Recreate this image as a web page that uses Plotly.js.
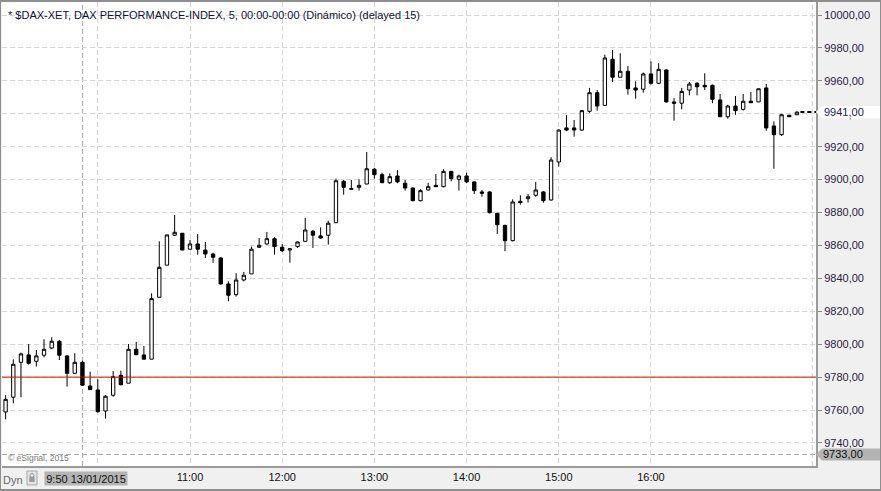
<!DOCTYPE html>
<html><head><meta charset="utf-8">
<script src="https://cdn.plot.ly/plotly-3.0.1.min.js"></script>
<style>
html,body{margin:0;padding:0;background:#f0f0f0;overflow:hidden;}
#chart{position:absolute;left:0;top:0;width:881px;height:491px;}
#frame{position:absolute;left:0;top:0;width:881px;height:491px;box-sizing:border-box;border-style:solid;border-color:#8e8e8e;border-width:2px 1px 2px 1px;pointer-events:none;}
</style>
</head><body><div id="chart"></div><div id="frame"></div>
<script>
// ---- data (5-minute bars, 13/01/2015, first bar 09:00) ----
const sessionDate = '2015-01-13';
const firstBarMinute = 9 * 60;
const barMinutes = 5;
const opens = [9758.8,9767.8,9789.0,9793.5,9789.6,9793.3,9797.7,9801.8,9792.9,9782.3,
9789.0,9774.6,9772.2,9759.4,9769.0,9781.1,9776.3,9796.9,9793.5,9790.9,
9828.5,9848.0,9866.2,9867.4,9857.7,9860.9,9857.2,9854.8,9852.4,9836.6,
9830.1,9839.0,9842.7,9858.9,9860.9,9864.1,9858.9,9857.2,9859.3,9862.5,
9868.6,9865.8,9866.2,9873.8,9899.0,9894.6,9895.3,9897.3,9906.3,9903.0,
9898.1,9902.2,9897.8,9894.9,9887.2,9893.7,9896.5,9895.7,9905.0,9900.2,
9902.2,9898.6,9892.5,9892.5,9879.5,9872.2,9862.9,9886.8,9888.4,9890.5,
9892.5,9887.6,9910.7,9931.4,9931.4,9930.1,9941.5,9952.8,9945.1,9973.1,
9962.2,9965.8,9955.7,9954.9,9964.2,9958.5,9966.6,9947.2,9946.4,9954.4,
9958.5,9957.3,9957.3,9948.4,9938.2,9944.7,9942.7,9947.6,9947.2,9955.7,
9932.6,9927.3,9939.1,9939.4];
const highs = [9769.0,9790.8,9794.9,9800.1,9796.5,9803.0,9804.2,9802.6,9793.2,9794.5,
9790.0,9783.3,9778.7,9769.0,9783.7,9783.9,9800.1,9801.4,9798.9,9830.9,
9862.5,9866.4,9878.5,9867.4,9863.3,9866.9,9862.1,9855.6,9852.8,9838.2,
9843.1,9843.9,9859.3,9864.5,9868.2,9865.0,9860.9,9858.2,9862.5,9876.7,
9869.4,9871.0,9875.0,9900.6,9899.8,9899.8,9900.2,9916.8,9907.1,9904.2,
9903.8,9905.8,9899.8,9895.3,9894.1,9898.1,9903.4,9906.3,9905.0,9903.0,
9904.2,9899.0,9893.7,9893.0,9879.9,9872.6,9888.0,9890.5,9891.3,9898.6,
9893.0,9913.6,9930.5,9939.1,9936.2,9942.3,9955.7,9954.4,9975.9,9978.7,
9976.7,9969.0,9959.7,9965.0,9971.9,9970.7,9967.0,9949.6,9955.7,9959.3,
9959.3,9964.6,9957.7,9952.0,9945.5,9950.8,9952.0,9953.2,9955.2,9958.1,
9935.4,9939.9,9939.1,9941.5];
const lows = [9754.4,9764.1,9767.8,9787.6,9786.4,9792.0,9796.9,9790.4,9774.2,9782.3,
9774.6,9772.4,9758.4,9754.8,9768.1,9775.0,9776.3,9793.6,9790.9,9790.9,
9828.5,9848.0,9865.8,9857.2,9857.7,9854.4,9852.4,9849.5,9836.2,9826.1,
9828.9,9838.2,9842.7,9858.5,9860.5,9854.4,9856.0,9849.5,9858.5,9862.5,
9858.5,9864.1,9860.5,9873.8,9890.8,9894.2,9893.3,9897.3,9900.6,9898.1,
9897.3,9897.8,9893.3,9886.8,9886.8,9893.3,9895.7,9895.3,9899.0,9893.3,
9897.8,9891.3,9889.6,9879.5,9866.9,9856.5,9862.5,9884.8,9886.0,9889.6,
9886.0,9887.2,9907.9,9929.4,9926.1,9929.7,9940.6,9941.9,9944.7,9959.3,
9962.2,9951.6,9949.2,9952.8,9957.7,9958.1,9946.7,9935.8,9942.7,9951.2,
9951.2,9954.4,9946.4,9938.2,9937.0,9939.4,9941.9,9946.7,9947.2,9929.7,
9906.6,9926.5,9938.2,9939.4];
const closes = [9766.5,9787.8,9794.1,9788.4,9792.9,9796.9,9801.8,9793.3,9782.3,9789.0,
9775.1,9772.4,9759.0,9768.4,9780.3,9775.4,9796.9,9793.6,9790.9,9827.7,
9846.7,9866.4,9868.0,9857.2,9860.9,9857.7,9854.8,9852.8,9836.6,9829.7,
9839.0,9841.9,9857.7,9860.1,9864.1,9859.3,9856.8,9858.0,9862.1,9869.4,
9866.2,9864.5,9873.5,9899.3,9895.3,9894.2,9896.5,9906.6,9903.0,9898.1,
9901.8,9898.6,9894.9,9887.2,9893.3,9895.7,9895.7,9905.0,9900.6,9902.2,
9898.6,9893.3,9891.7,9879.9,9872.6,9862.9,9886.4,9886.0,9889.6,9893.7,
9887.2,9911.9,9930.1,9930.1,9930.1,9941.9,9952.8,9944.7,9973.9,9962.2,
9965.8,9955.2,9954.4,9964.2,9958.5,9967.0,9947.2,9946.4,9953.6,9958.1,
9956.4,9956.4,9948.8,9938.2,9944.7,9941.9,9947.6,9946.7,9955.2,9931.4,
9927.3,9939.4,9938.2,9941.0];
const previousClose = 9780;
const sessionLow = 9733;
const lastPrice = 9941;
const cursorTime = '2015-01-13 09:50';
const cursorLabel = '9:50 13/01/2015';
const tickTimes = ['2015-01-13 10:00','2015-01-13 11:00','2015-01-13 12:00','2015-01-13 13:00','2015-01-13 14:00','2015-01-13 15:00','2015-01-13 16:00'];
const tickLabels = ['', '11:00','12:00','13:00','14:00','15:00','16:00'];
const titleText = '* $DAX-XET, DAX PERFORMANCE-INDEX, 5, 00:00-00:00 (Dinámico) (delayed 15)';

function stamp(min){
  const h = Math.floor(min/60), m = Math.floor(min%60), s = Math.round((min*60)%60);
  return sessionDate+' '+String(h).padStart(2,'0')+':'+String(m).padStart(2,'0')+':'+String(s).padStart(2,'0');
}
const times = opens.map((_, i) => stamp(firstBarMinute + i*barMinutes));
const xStart = stamp(firstBarMinute - 0.47*barMinutes);
const xEnd = stamp(firstBarMinute + 105.48*barMinutes);
const lastLineStart = stamp(firstBarMinute + (opens.length - 1 + 0.45)*barMinutes);
const rightMarker = stamp(firstBarMinute + 105*barMinutes);

const sans = 'Liberation Sans, Arial, sans-serif';
const gridDash = '5px,3px';
const lblH = 3.7; // half-height of price label boxes in price units

const trace = {
  type:'candlestick', x:times, open:opens, high:highs, low:lows, close:closes,
  increasing:{line:{color:'#000000', width:1}, fillcolor:'#ffffff'},
  decreasing:{line:{color:'#000000', width:1}, fillcolor:'#000000'},
  whiskerwidth:0, hoverinfo:'skip'
};

const layout = {
  width:881, height:491,
  margin:{l:2, r:65, t:2, b:25, pad:0},
  paper_bgcolor:'#f0f0f0', plot_bgcolor:'#ffffff',
  separators:',.', showlegend:false, boxgap:0.38,
  font:{family:sans, size:11, color:'#222'},
  xaxis:{type:'date', range:[xStart, xEnd], rangeslider:{visible:false},
    tickmode:'array', tickvals:tickTimes, ticktext:tickLabels,
    showgrid:true, gridcolor:'#d6d6d6', griddash:gridDash, gridwidth:1,
    ticks:'', showline:true, linecolor:'#9a9a9a', linewidth:2, zeroline:false,
    tickfont:{family:sans, size:11, color:'#111111'}, fixedrange:true},
  yaxis:{side:'right', range:[9726.0, 10007.9], tickmode:'linear', tick0:9740, dtick:20,
    tickformat:'.2f', showgrid:true, gridcolor:'#d6d6d6', griddash:gridDash, gridwidth:1,
    ticks:'outside', ticklen:4, tickcolor:'#8a8a8a', showline:true, linecolor:'#9a9a9a', linewidth:2,
    zeroline:false, tickfont:{family:sans, size:11, color:'#2a2040'}, fixedrange:true},
  shapes:[
    {type:'line', xref:'x', yref:'paper', x0:cursorTime, x1:cursorTime, y0:0, y1:1, line:{color:'#a8a8a8', width:1, dash:gridDash}, layer:'below'},
    {type:'line', xref:'x', yref:'paper', x0:rightMarker, x1:rightMarker, y0:0, y1:1, line:{color:'#d0d0d0', width:1, dash:gridDash}, layer:'below'},
    {type:'line', xref:'paper', yref:'y', x0:0, x1:1, y0:sessionLow, y1:sessionLow, line:{color:'#a8a8a8', width:1, dash:gridDash}, layer:'below'},
    {type:'line', xref:'paper', yref:'y', x0:0, x1:1, y0:previousClose, y1:previousClose, line:{color:'#e00000', width:1}},
    {type:'line', xref:'x', yref:'y', x0:lastLineStart, x1:xEnd, y0:lastPrice, y1:lastPrice, line:{color:'#000000', width:2, dash:'4px,3px'}},
    {type:'path', xref:'paper', yref:'y', fillcolor:'#ffffff', line:{width:0},
      path:'M 1.0 '+lastPrice+' L 1.0075 '+(lastPrice+lblH)+' L 1.081 '+(lastPrice+lblH)+' L 1.081 '+(lastPrice-lblH)+' L 1.0075 '+(lastPrice-lblH)+' Z'},
    {type:'path', xref:'paper', yref:'y', fillcolor:'#b3b3b3', line:{width:0},
      path:'M 1.0 '+sessionLow+' L 1.0075 '+(sessionLow+lblH)+' L 1.081 '+(sessionLow+lblH)+' L 1.081 '+(sessionLow-lblH)+' L 1.0075 '+(sessionLow-lblH)+' Z'},
    {type:'rect', xref:'paper', yref:'paper', x0:0.0307, x1:0.0430, y0:-0.0409, y1:-0.0108, fillcolor:'#e4e4e4', line:{color:'#a8a8a8', width:1}},
    {type:'rect', xref:'paper', yref:'paper', x0:0.0336, x1:0.0400, y0:-0.0345, y1:-0.0230, fillcolor:'#9a9a9a', line:{width:0}},
    {type:'circle', xref:'paper', yref:'paper', x0:0.0344, x1:0.0392, y0:-0.0250, y1:-0.0160, fillcolor:'rgba(0,0,0,0)', line:{color:'#9a9a9a', width:1}}
  ],
  annotations:[
    {xref:'paper', yref:'paper', x:0, y:0.972, xanchor:'left', yanchor:'middle', xshift:4, showarrow:false,
      text:titleText, font:{family:sans, size:11, color:'#101030'}},
    {xref:'paper', yref:'paper', x:0, y:0.0172, xanchor:'left', yanchor:'middle', xshift:4, showarrow:false,
      text:'© eSignal, 2015', font:{family:sans, size:8.5, color:'#7a7a7a'}},
    {xref:'paper', yref:'paper', x:0, y:0, xanchor:'left', yanchor:'top', xshift:-1, yshift:-6, showarrow:false,
      text:'Dyn', font:{family:sans, size:11, color:'#6a6a6a'}},
    {xref:'x', yref:'paper', x:cursorTime, y:0, xanchor:'center', yanchor:'top', xshift:4, yshift:-5, showarrow:false,
      text:cursorLabel, bgcolor:'#b4b4b4', width:82, height:13, borderpad:0, font:{family:sans, size:11, color:'#111111'}},
    {xref:'paper', yref:'y', x:1, y:lastPrice, xanchor:'left', yanchor:'middle', xshift:6, showarrow:false,
      text:lastPrice.toFixed(2).replace('.', ','), font:{family:sans, size:11, color:'#1a1a50'}},
    {xref:'paper', yref:'y', x:1, y:sessionLow, xanchor:'left', yanchor:'middle', xshift:5, showarrow:false,
      text:sessionLow.toFixed(2).replace('.', ','), font:{family:sans, size:11, color:'#111111'}}
  ]
};

Plotly.newPlot('chart', [trace], layout, {displayModeBar:false, staticPlot:true});
</script>
</body></html>
